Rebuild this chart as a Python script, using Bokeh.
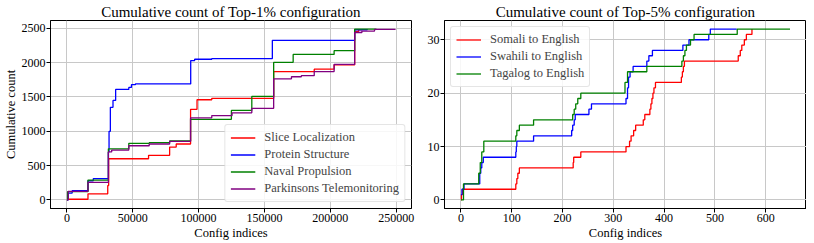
from bokeh.plotting import figure
from bokeh.layouts import row
from bokeh.models import FixedTicker, BasicTickFormatter, Range1d
from bokeh.embed import file_html
from bokeh.resources import INLINE

FONT = "Liberation Serif"

# ---------------- Left panel data (Top-1%) ----------------
slice_x = [0, 500, 16000, 31000, 31700, 62000, 78000, 83000, 93900, 98800, 110000, 157000, 187800, 202900, 218500, 221500, 224000]
slice_y = [0, 10, 90, 210, 600, 650, 770, 815, 1320, 1460, 1480, 1870, 1905, 1970, 2455, 2480, 2490]

protein_x = [0, 1000, 4000, 16000, 20000, 31500, 32000, 33000, 35000, 37000, 47000, 49000, 52000, 94000, 97000, 110000, 156000, 218500, 228000]
protein_y = [0, 100, 135, 280, 310, 700, 1000, 1350, 1450, 1610, 1640, 1680, 1690, 2030, 2050, 2060, 2325, 2480, 2490]

naval_x = [0, 500, 16000, 31500, 47000, 62500, 78000, 93900, 124900, 140400, 157000, 171800, 202900, 218500, 235000]
naval_y = [0, 120, 290, 745, 825, 835, 860, 1175, 1305, 1510, 2005, 2120, 2175, 2490, 2490]

park_x = [0, 1000, 16000, 31500, 34000, 47000, 62500, 78000, 93900, 110000, 125400, 140400, 157000, 170500, 178000, 187800, 202900, 218500, 224000, 233600, 249200]
park_y = [0, 125, 257, 700, 727, 790, 815, 853, 1196, 1230, 1270, 1335, 1765, 1795, 1810, 1870, 1975, 2440, 2460, 2485, 2490]

left_xticks = [0, 50000, 100000, 150000, 200000, 250000]
left_yticks = [0, 500, 1000, 1500, 2000, 2500]

# ---------------- Right panel data (Top-5%) ----------------
somali_x = [0, 1, 3, 108, 110, 112, 115, 221, 222, 236, 325, 332, 335, 340, 344, 359, 362, 372, 374, 376, 378, 380, 383, 434, 436, 438, 440, 546, 550, 553, 558, 562, 573]
somali_y = [0, 1, 2, 3, 4, 5, 6, 7, 8, 9, 10, 11, 12, 13, 14, 15, 16, 17, 18, 19, 20, 21, 22, 23, 24, 25, 26, 27, 28, 29, 30, 31, 32]

swahili_x = [0, 2, 6, 37, 39, 41, 44, 108, 109, 110, 143, 218, 220, 223, 225, 252, 257, 325, 328, 330, 333, 339, 366, 370, 377, 437, 449, 488, 491, 543]
swahili_y = [1, 2, 3, 5, 6, 7, 8, 9, 10, 11, 12, 13, 14, 15, 16, 17, 18, 19, 21, 23, 24, 25, 26, 27, 28, 29, 30, 31, 32, 32]

tagalog_x = [0, 5, 35, 38, 41, 45, 108, 110, 115, 143, 220, 223, 226, 230, 236, 323, 328, 366, 435, 438, 441, 444, 452, 459, 544, 648]
tagalog_y = [0, 3, 5, 7, 9, 11, 12, 13, 14, 15, 16, 17, 18, 19, 20, 22, 24, 25, 26, 27, 28, 29, 30, 31, 32, 32]

right_xticks = [0, 100, 200, 300, 400, 500, 600]
right_yticks = [0, 10, 20, 30]


def style(p, xticks, yticks):
    p.outline_line_color = "black"
    p.outline_line_width = 1
    p.title.text_font = FONT
    p.title.text_font_size = "15px"
    p.title.text_font_style = "normal"
    p.title.text_color = "black"
    p.title.align = "center"
    p.title.standoff = 2
    for ax in (p.xaxis[0], p.yaxis[0]):
        ax.axis_line_color = "black"
        ax.major_tick_line_color = "black"
        ax.major_tick_out = 4
        ax.major_tick_in = 0
        ax.minor_tick_line_color = None
        ax.major_label_text_font = FONT
        ax.major_label_text_font_size = "12px"
        ax.major_label_text_color = "black"
        ax.major_label_standoff = 1
        ax.axis_label_text_font = FONT
        ax.axis_label_text_font_size = "12.5px"
        ax.axis_label_text_font_style = "normal"
        ax.axis_label_text_color = "black"
        ax.axis_label_standoff = 1
        ax.formatter = BasicTickFormatter(use_scientific=False)
    p.xaxis[0].ticker = FixedTicker(ticks=xticks)
    p.yaxis[0].ticker = FixedTicker(ticks=yticks)
    p.xgrid.ticker = FixedTicker(ticks=xticks)
    p.ygrid.ticker = FixedTicker(ticks=yticks)
    for g in (p.xgrid[0], p.ygrid[0]):
        g.grid_line_color = "#c8c8c8"
        g.grid_line_width = 1


def style_legend(p, loc):
    lg = p.legend[0]
    lg.location = loc
    lg.label_text_font = FONT
    lg.label_text_font_size = "12.5px"
    lg.glyph_width = 25
    lg.glyph_height = 15
    lg.label_height = 15
    lg.label_standoff = 9
    lg.spacing = 2
    lg.padding = 5
    lg.margin = 6
    lg.border_line_color = "#cccccc"
    lg.border_line_width = 1
    lg.border_radius = 3
    lg.background_fill_alpha = 0.85


# ---------------- Left figure ----------------
p1 = figure(title="Cumulative count of Top-1% configuration",
            frame_width=361, frame_height=188, output_backend="svg", toolbar_location=None,
            x_range=Range1d(-12460, 261660), y_range=Range1d(-124.5, 2614.5),
            min_border_top=0, min_border_right=13, min_border_left=0, min_border_bottom=0)
p1.xaxis.axis_label = "Config indices"
p1.yaxis.axis_label = "Cumulative count"
style(p1, left_xticks, left_yticks)
lw = 1.3
p1.step(slice_x, slice_y, mode="after", line_color="red", line_width=lw, legend_label="Slice Localization")
p1.step(protein_x, protein_y, mode="after", line_color="blue", line_width=lw, legend_label="Protein Structure")
p1.step(naval_x, naval_y, mode="after", line_color="green", line_width=lw, legend_label="Naval Propulsion")
p1.step(park_x, park_y, mode="after", line_color="purple", line_width=lw, legend_label="Parkinsons Telemonitoring")
style_legend(p1, "bottom_right")

# ---------------- Right figure ----------------
p2 = figure(title="Cumulative count of Top-5% configuration",
            frame_width=362, frame_height=188, output_backend="svg", toolbar_location=None,
            x_range=Range1d(-32.4, 680.4), y_range=Range1d(-1.6, 33.6),
            min_border_top=0, min_border_right=0, min_border_left=18, min_border_bottom=0)
p2.xaxis.axis_label = "Config indices"
style(p2, right_xticks, right_yticks)
p2.step(somali_x, somali_y, mode="after", line_color="red", line_width=lw, legend_label="Somali to English")
p2.step(swahili_x, swahili_y, mode="after", line_color="blue", line_width=lw, legend_label="Swahili to English")
p2.step(tagalog_x, tagalog_y, mode="after", line_color="green", line_width=lw, legend_label="Tagalog to English")
style_legend(p2, "top_left")

layout = row(p1, p2, spacing=0)
open("out.html", "w").write(file_html(layout, INLINE))
